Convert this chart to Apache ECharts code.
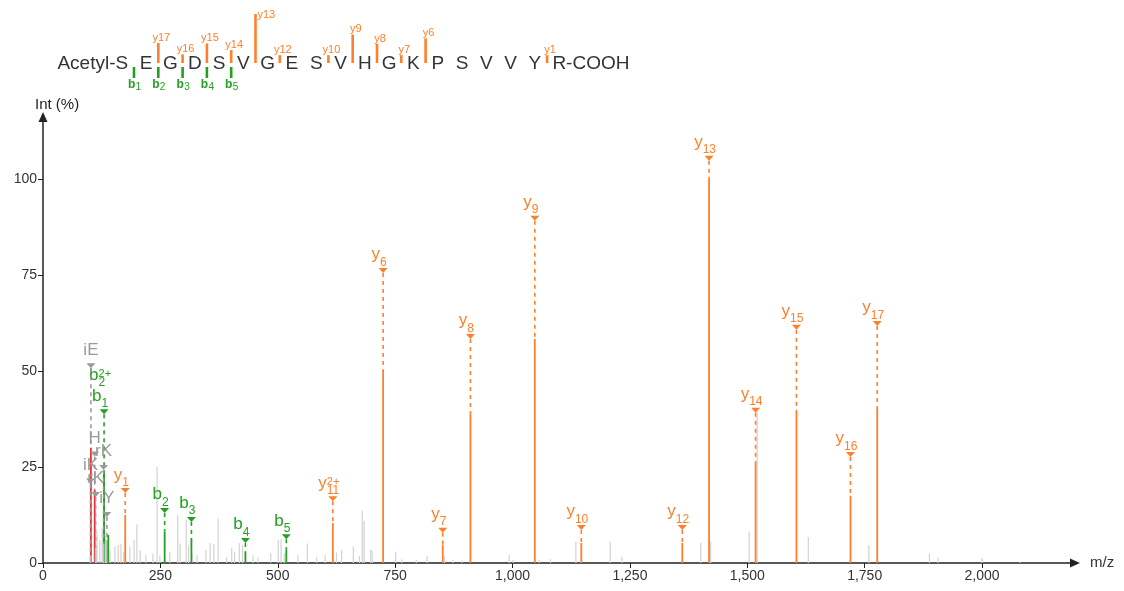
<!DOCTYPE html>
<html><head><meta charset="utf-8">
<script src="https://cdn.jsdelivr.net/npm/echarts@6/dist/echarts.min.js"></script>
<style>html,body{margin:0;padding:0;background:#fff}#c{width:1124px;height:591px}</style>
</head><body><div id="c"></div>
<script>
// ---------------- data ----------------
const residues = ['S','E','G','D','S','V','G','E','S','V','H','G','K','P','S','V','V','Y','R'];
const xTicks = [0,250,500,750,1000,1250,1500,1750,2000];
const yTicks = [0,25,50,75,100];

// annotated ions
const ionName  = ['y','y','y','y','y','y','y','y','y','y','y','y','y','b','b','b','b','b','b','iE','H','rK','iK','rK','iY',''];
const ionSub   = ['1','11','6','7','8','9','10','12','13','14','15','16','17','1','2','2','3','4','5','','','','','','',''];
const ionSup   = ['','2+','','','','','','','','','','','','','2+','','','','','','','','','','',''];
const ionKind  = ['y','y','y','y','y','y','y','y','y','y','y','y','y','b','b','b','b','b','b','imm','imm','rel','rel','rel','rel','b'];
const ionMz    = [175.1,617.3,724.4,851.4,910.4,1047.5,1146.5,1361.6,1418.6,1517.7,1604.7,1719.8,1776.8,130.05,130.05,259.1,316.1,431.1,518.2,102.05,110.07,129.1,101.1,112.1,136.1,139];
const ionInt   = [12.5,10.4,50.3,4.7,39.0,58.3,5.2,5.2,100,26.4,39.8,17.5,40.6,24,24,8.2,6.5,3.0,3.6,30,19,5,2,4,6,7.3];
const ionLevel = [19.5,17.4,76.8,9.2,59.6,90.4,9.9,9.9,106,40.4,62,28.9,63,40,45.5,14.3,12,6.5,7.5,52,29,25.5,22,18.5,13.3,0];
const ionMark  = [1,1,1,1,1,1,1,1,1,1,1,1,1,1,0,1,1,1,1,1,1,1,1,1,1,0];

// unannotated peaks
const noiseMz  = [115,121,126,133,143,153,160,166,172,185,194,200,207,219,234,243,249,270,287,292,305,310,317,328,347,356,364,373,391,402,408,418,425,447,458,485,501,507,514,543,563,583,601,625,636,661,674,680,684,698,701,751,764,795,818,855,873,892,993,1001,1057,1081,1135,1208,1233,1401,1422,1504,1521,1630,1759,1888,1906,2000,2081];
const noiseInt = [8,6,9,7,3.4,4.2,4.7,5,3,4.2,6,10,3.4,2,2.5,25,2,2.9,12.5,5.1,11.2,4.5,2.5,2,3.4,5.2,4.9,11.6,1.5,3.9,3,5.2,4.8,2,1.5,2.7,6,6.2,2.5,2,5.1,1.5,2,2.7,3.4,4.2,1.8,13.6,11,3.6,3.2,2.9,1,0.8,1.8,1.8,0.8,0.6,2,0.8,0.8,1,5.5,5.5,1.6,5.2,5.6,8.2,39.4,6.8,4.7,2.4,1.4,1.3,0.4];

// ---------------- style ----------------
const FONT = "'Liberation Sans', Arial, Helvetica, sans-serif";
const ORANGE = '#ff7f2a', GREEN = '#22a022', RED = '#f03030', GLAB = '#9a9a9a', NOISE = '#d2d2d2', AX = '#222';
const KIND = {
  y:   {line: ORANGE, label: ORANGE},
  b:   {line: GREEN,  label: GREEN},
  imm: {line: RED,    label: GLAB},
  rel: {line: '#bdbdbd', label: GLAB}
};
const mctx = document.createElement('canvas').getContext('2d');
function tw(t, fs){ mctx.font = fs + 'px ' + FONT; return mctx.measureText(t).width; }
function txt(x, base, t, fs, color, align, weight){
  return {type:'text', style:{x:x, y:base - 0.31*fs, text:t, fill:color, fontSize:fs, fontFamily:FONT,
    fontWeight: weight||'normal', align:align||'left', verticalAlign:'middle'}};
}

// ---------------- series renderers ----------------
function renderNoise(params, api){
  const p0 = api.coord([api.value(0), 0]), p1 = api.coord([api.value(0), api.value(1)]);
  return {type:'line', shape:{x1:p0[0], y1:p0[1], x2:p1[0], y2:p1[1]}, style:{stroke:NOISE, lineWidth:1.2}};
}
function renderIon(params, api){
  const i = params.dataIndex, k = KIND[ionKind[i]];
  const base = api.coord([api.value(0), 0]), top = api.coord([api.value(0), api.value(1)]), mk = api.coord([api.value(0), api.value(2)]);
  const ch = [];
  ch.push({type:'line', shape:{x1:base[0], y1:base[1], x2:top[0], y2:top[1]}, style:{stroke:k.line, lineWidth:1.8}});
  if (!ionName[i]) return {type:'group', children:ch};
  const cx = mk[0], ym = mk[1];
  if (ionMark[i]) {
    ch.push({type:'polygon', shape:{points:[[cx-4.5, ym],[cx+4.5, ym],[cx, ym+5]]}, style:{fill:k.label}});
    if (top[1] > ym + 7) ch.push({type:'line', shape:{x1:cx, y1:ym+5, x2:cx, y2:top[1]}, style:{stroke:k.label, lineWidth:1.6, lineDash:[4,4]}});
  }
  const fsM = 17, fsS = 12, fsP = 11;
  const wN = tw(ionName[i], fsM), wS = Math.max(tw(ionSub[i], fsS), tw(ionSup[i], fsP));
  const x0 = cx - (wN + wS)/2 - (ionKind[i] === 'y' || ionKind[i] === 'b' ? 4 : 0);
  ch.push(txt(x0, ym - 8, ionName[i], fsM, k.label));
  if (ionSub[i]) ch.push(txt(x0 + wN, ym - 2, ionSub[i], fsS, k.label));
  if (ionSup[i]) ch.push(txt(x0 + wN, ym - 11, ionSup[i], fsP, k.label));
  return {type:'group', children:ch};
}
// sequence map
function renderResidue(params, api){
  const i = params.dataIndex, p = api.coord([api.value(0), 0]);
  const fs = 19, base = p[1] + 7;
  let t = residues[i], align = 'center', x = p[0];
  if (i === 0) { t = 'Acetyl-' + t; align = 'right'; x = p[0] + tw(residues[i], fs)/2; }
  if (i === residues.length - 1) { t = t + '-COOH'; align = 'left'; x = p[0] - tw(residues[i], fs)/2; }
  return txt(x, base, t, fs, '#333', align);
}
function renderYTick(params, api){
  const p0 = api.coord([api.value(0), 0]), p1 = api.coord([api.value(0), api.value(1)]);
  const lab = 'y' + api.value(2);
  // labels that would leave the top of the picture sit beside their tick
  const label = (p1[1] - 13 < 4) ? txt(p1[0] + 2, p1[1] + 4, lab, 11, ORANGE, 'left')
                                 : txt(p1[0] + 3, p1[1] - 2, lab, 11, ORANGE, 'center');
  return {type:'group', children:[
    {type:'line', shape:{x1:p0[0], y1:p0[1], x2:p1[0], y2:p1[1]}, style:{stroke:ORANGE, lineWidth:2.6}},
    label
  ]};
}
function renderBTick(params, api){
  const p0 = api.coord([api.value(0), 0]);
  const wb = tw('b', 12), ws = tw(String(api.value(1)), 10), x0 = p0[0] - (wb + ws)/2;
  return {type:'group', children:[
    {type:'line', shape:{x1:p0[0], y1:p0[1]+4, x2:p0[0], y2:p0[1]+15}, style:{stroke:GREEN, lineWidth:2.6}},
    txt(x0, p0[1] + 25, 'b', 12, GREEN, 'left', 'bold'),
    txt(x0 + wb + 1, p0[1] + 27, String(api.value(1)), 10, GREEN, 'left')
  ]};
}

// derived data for the sequence map
const nRes = residues.length;
const yTickData = [], bTickData = [];
ionName.forEach((n, i) => {
  if (ionSup[i] || !ionSub[i]) return;
  const num = +ionSub[i];
  if (ionKind[i] === 'y') yTickData.push([nRes - num, Math.max(ionInt[i], 16), num]);
  if (ionKind[i] === 'b') bTickData.push([num, num]);
});

const chart = echarts.init(document.getElementById('c'), null, {renderer:'canvas'});
chart.setOption({
  animation:false,
  backgroundColor:'#fff',
  grid:[
    {left:43, right:49, top:117, bottom:28},
    {left:109.7, width:461.7, top:14, height:49}
  ],
  xAxis:[
    {type:'value', gridIndex:0, min:0, max:2198, interval:250,
     axisLine:{show:true, symbol:['none','triangle'], symbolSize:[9,10], lineStyle:{color:AX, width:1.5}},
     axisTick:{show:true, customValues:xTicks, length:5, lineStyle:{color:AX}},
     axisLabel:{customValues:xTicks, color:'#333', fontSize:14, fontFamily:FONT, margin:6,
       formatter:v => v.toLocaleString('en-US')},
     splitLine:{show:false},
     name:'m/z', nameLocation:'end', nameGap:15, nameTextStyle:{color:'#333', fontSize:15, fontFamily:FONT}},
    {type:'value', gridIndex:1, min:0, max:nRes, show:false}
  ],
  yAxis:[
    {type:'value', gridIndex:0, min:0, max:116.1, interval:25,
     axisLine:{show:true, symbol:['none','triangle'], symbolSize:[9,10], lineStyle:{color:AX, width:1.5}},
     axisTick:{show:true, customValues:yTicks, length:5, lineStyle:{color:AX}},
     axisLabel:{customValues:yTicks, color:'#333', fontSize:14, fontFamily:FONT, margin:6},
     splitLine:{show:false},
     name:'Int (%)', nameLocation:'end', nameGap:5,
     nameTextStyle:{color:'#222', fontSize:15, fontFamily:FONT, align:'left', padding:[0,0,0,-8]}},
    {type:'value', gridIndex:1, min:0, max:100, show:false}
  ],
  series:[
    {type:'custom', name:'unassigned', xAxisIndex:0, yAxisIndex:0, silent:true, clip:false,
     data: noiseMz.map((m, i) => [m, noiseInt[i]]), renderItem: renderNoise},
    {type:'custom', name:'ions', xAxisIndex:0, yAxisIndex:0, silent:true, clip:false,
     data: ionMz.map((m, i) => [m, ionInt[i], ionLevel[i]]), renderItem: renderIon},
    {type:'custom', name:'sequence', xAxisIndex:1, yAxisIndex:1, silent:true, clip:false,
     data: residues.map((r, i) => [i + 0.5, 0]), renderItem: renderResidue},
    {type:'custom', name:'yMap', xAxisIndex:1, yAxisIndex:1, silent:true, clip:false,
     data: yTickData, renderItem: renderYTick},
    {type:'custom', name:'bMap', xAxisIndex:1, yAxisIndex:1, silent:true, clip:false,
     data: bTickData, renderItem: renderBTick}
  ]
});
</script></body></html>
